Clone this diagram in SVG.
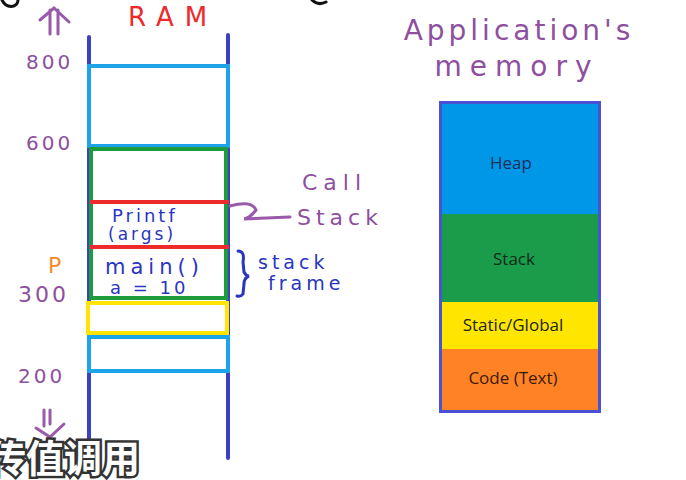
<svg xmlns="http://www.w3.org/2000/svg" width="686" height="480" viewBox="0 0 686 480">
<style>
.hand{font-family:"DejaVu Sans","Liberation Sans",sans-serif;}
.purple{fill:#8e4f9e;}
.navy{fill:#2a35c0;}
.seg{font-family:"Open Sans","Liberation Sans",sans-serif;font-size:17px;text-anchor:middle;}
.rail{stroke:#3b40c4;stroke-width:4;stroke-linecap:round;fill:none;}
</style>
<rect width="686" height="480" fill="#ffffff"/>
<g id="scraps" fill="none" stroke="#111" stroke-width="3" stroke-linecap="round">
<path d="M2,0 Q6,8 14,6 Q18,4 18,0"/>
<path d="M312,0 Q318,6 326,2"/>
</g>
<g id="ram">
<line class="rail" x1="89" y1="37" x2="89" y2="460"/>
<line class="rail" x1="228" y1="35" x2="228" y2="458"/>
<rect x="89" y="66" width="139" height="80" fill="#fff" stroke="#1ca3ea" stroke-width="4"/>
<rect x="91" y="149" width="135" height="149" fill="#fff" stroke="#1e9b3c" stroke-width="4"/>
<line x1="90" y1="202" x2="229" y2="202" stroke="#ee2a2a" stroke-width="4"/>
<line x1="90" y1="247" x2="229" y2="247" stroke="#ee2a2a" stroke-width="4"/>
<rect x="88" y="303" width="139" height="30" fill="#fff" stroke="#ffe500" stroke-width="4"/>
<rect x="89" y="337" width="139" height="34" fill="#fff" stroke="#1ca3ea" stroke-width="4"/>
<text class="hand" x="128" y="26" font-size="26" fill="#ee2a2a" letter-spacing="11">RAM</text>
</g>
<g id="addresses" class="hand purple" font-size="20" letter-spacing="3">
<text x="26" y="69">800</text>
<text x="26" y="150">600</text>
<text x="18" y="302" font-size="22">300</text>
<text x="18" y="383">200</text>
<text x="48" y="273" fill="#f58a2a" letter-spacing="0" font-size="22">P</text>
</g>
<g id="arrows" fill="none" stroke="#9a5aaa" stroke-width="3" stroke-linecap="round">
<path d="M50,34 V10 M58,34 V10 M40,20 L54,8 L69,22"/>
<path d="M44,410 V426 M50,410 V424 M36,428 L50,437 L64,424"/>
</g>
<g id="frames" class="hand navy">
<text x="112" y="222" font-size="18" letter-spacing="3">Printf</text>
<text x="108" y="240" font-size="17" letter-spacing="3">(args)</text>
<text x="105" y="274" font-size="21" letter-spacing="5">main()</text>
<text x="110" y="294" font-size="18" letter-spacing="3">a = 10</text>
</g>
<g id="annotations" class="hand">
<text class="purple" x="302" y="190" font-size="22" letter-spacing="6">Call</text>
<text class="purple" x="297" y="225" font-size="22" letter-spacing="5">Stack</text>
<text class="navy" x="258" y="269" font-size="19" letter-spacing="4">stack</text>
<text class="navy" x="268" y="290" font-size="19" letter-spacing="4">frame</text>
</g>
<g id="connectors" fill="none" stroke-linecap="round" stroke-width="3">
<path d="M230,206 Q252,200 256,210 Q250,218 244,219 L290,217" stroke="#9a5aaa"/>
<path d="M238,251 Q245,251 243,262 L244,272 Q246,276 249,276 Q244,278 244,284 L243,294 Q241,297 237,296" stroke="#2a35c0"/>
</g>
<g id="title" class="hand purple" font-size="28" text-anchor="middle">
<text x="519" y="40" letter-spacing="4">Application's</text>
<text x="517" y="76" letter-spacing="8">memory</text>
</g>
<g id="app-memory">
<rect x="439" y="101" width="162" height="312" fill="#4a52d4"/>
<rect x="442" y="104" width="156" height="110" fill="#0097e8"/>
<rect x="442" y="214" width="156" height="88" fill="#1a9c4a"/>
<rect x="442" y="302" width="156" height="47" fill="#ffe600"/>
<rect x="442" y="349" width="156" height="61" fill="#ff8224"/>
<text class="seg" x="511" y="169" fill="#1a2f5a">Heap</text>
<text class="seg" x="514" y="265" fill="#0d2a18">Stack</text>
<text class="seg" x="513" y="331" fill="#222">Static/Global</text>
<text class="seg" x="513" y="384" fill="#3a1a08">Code (Text)</text>
</g>
<g id="subtitle">
<text x="-12" y="472" font-family="'Noto Sans CJK SC',sans-serif" font-size="38" font-weight="bold" fill="#fff" stroke="#333" stroke-width="5" paint-order="stroke">传值调用</text>
</g>
</svg>
